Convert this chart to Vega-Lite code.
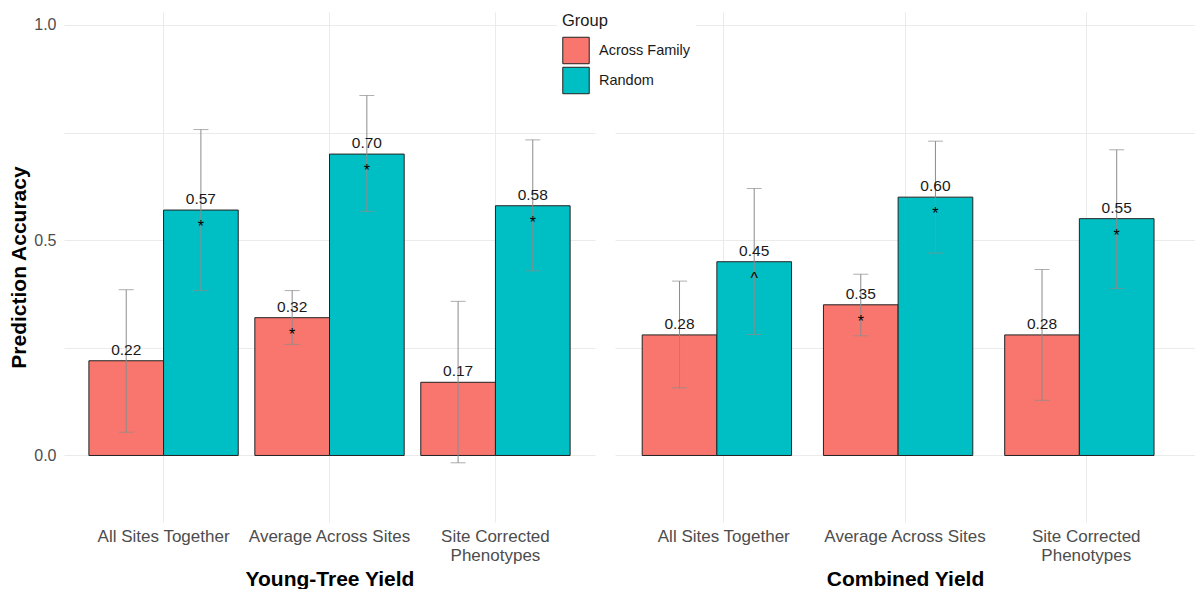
{
  "$schema": "https://vega.github.io/schema/vega-lite/v6.json",
  "padding": {"left": 8, "top": 8, "right": 0, "bottom": 0},
  "spacing": 20,
  "config": {
    "font": "Liberation Sans",
    "view": {"stroke": null},
    "axis": {
      "gridColor": "#EBEBEB",
      "gridWidth": 1,
      "ticks": false,
      "domain": false,
      "labelColor": "#4D4D4D",
      "titleColor": "#000000",
      "titleFontWeight": "bold",
      "titleFontSize": 21
    }
  },
  "datasets": {
    "accuracy": [
      {"Yield": "Young-Tree Yield", "Method": "All Sites Together", "Group": "Across Family", "value": 0.22, "lo": 0.054, "hi": 0.385, "sig": ""},
      {"Yield": "Young-Tree Yield", "Method": "All Sites Together", "Group": "Random", "value": 0.57, "lo": 0.383, "hi": 0.757, "sig": "*"},
      {"Yield": "Young-Tree Yield", "Method": "Average Across Sites", "Group": "Across Family", "value": 0.32, "lo": 0.258, "hi": 0.383, "sig": "*"},
      {"Yield": "Young-Tree Yield", "Method": "Average Across Sites", "Group": "Random", "value": 0.70, "lo": 0.567, "hi": 0.836, "sig": "*"},
      {"Yield": "Young-Tree Yield", "Method": "Site Corrected Phenotypes", "Group": "Across Family", "value": 0.17, "lo": -0.017, "hi": 0.358, "sig": ""},
      {"Yield": "Young-Tree Yield", "Method": "Site Corrected Phenotypes", "Group": "Random", "value": 0.58, "lo": 0.429, "hi": 0.733, "sig": "*"},
      {"Yield": "Combined Yield", "Method": "All Sites Together", "Group": "Across Family", "value": 0.28, "lo": 0.157, "hi": 0.405, "sig": ""},
      {"Yield": "Combined Yield", "Method": "All Sites Together", "Group": "Random", "value": 0.45, "lo": 0.281, "hi": 0.620, "sig": "^"},
      {"Yield": "Combined Yield", "Method": "Average Across Sites", "Group": "Across Family", "value": 0.35, "lo": 0.278, "hi": 0.421, "sig": "*"},
      {"Yield": "Combined Yield", "Method": "Average Across Sites", "Group": "Random", "value": 0.60, "lo": 0.470, "hi": 0.730, "sig": "*"},
      {"Yield": "Combined Yield", "Method": "Site Corrected Phenotypes", "Group": "Across Family", "value": 0.28, "lo": 0.128, "hi": 0.432, "sig": ""},
      {"Yield": "Combined Yield", "Method": "Site Corrected Phenotypes", "Group": "Random", "value": 0.55, "lo": 0.388, "hi": 0.710, "sig": "*"}
    ]
  },
  "resolve": {"scale": {"color": "shared"}, "legend": {"color": "shared"}},
  "hconcat": [
    {
      "width": 531,
      "height": 510,
      "data": {"name": "accuracy"},
      "transform": [{"filter": "datum.Yield == 'Young-Tree Yield'"}],
      "encoding": {
        "x": {
          "field": "Method",
          "type": "nominal",
          "sort": null,
          "scale": {"paddingInner": 0.1, "paddingOuter": 0.15},
          "axis": {
            "title": "Young-Tree Yield",
            "grid": true,
            "bandPosition": 0.5,
            "labelAngle": 0,
            "labelFontSize": 17,
            "labelPadding": 6,
            "labelLineHeight": 19,
            "titlePadding": 5,
            "labelExpr": "datum.value == 'Site Corrected Phenotypes' ? ['Site Corrected', 'Phenotypes'] : datum.value"
          }
        },
        "xOffset": {"field": "Group", "type": "nominal", "scale": {"paddingInner": 0, "paddingOuter": 0}}
      },
      "layer": [
        {
          "mark": {"type": "bar", "stroke": "#222222", "strokeWidth": 1},
          "encoding": {
            "y": {
              "field": "value",
              "type": "quantitative",
              "scale": {"domain": [-0.1545, 1.03], "nice": false, "zero": false},
              "axis": {
                "title": "Prediction Accuracy",
                "values": [0, 0.25, 0.5, 0.75, 1],
                "labelExpr": "datum.value % 0.5 == 0 ? format(datum.value, '.1f') : ''",
                "labelFontSize": 16,
                "labelPadding": 8,
                "titlePadding": 4
              }
            },
            "color": {
              "field": "Group",
              "type": "nominal",
              "scale": {"domain": ["Across Family", "Random"], "range": ["#F8766D", "#00BFC4"]},
              "legend": {
                "title": "Group",
                "orient": "none",
                "legendX": 493,
                "legendY": -4,
                "fillColor": "#FFFFFF",
                "padding": 5,
                "titleFontSize": 16.5,
                "titleFontWeight": "normal",
                "titleColor": "#1A1A1A",
                "titlePadding": 7,
                "labelFontSize": 14.5,
                "labelColor": "#1A1A1A",
                "labelOffset": 9,
                "symbolType": "square",
                "symbolSize": 700,
                "symbolStrokeColor": "#222222",
                "symbolStrokeWidth": 1,
                "symbolOpacity": 1,
                "rowPadding": -4
              }
            }
          }
        },
        {
          "mark": {"type": "rule", "color": "#8C8C8C", "strokeWidth": 1},
          "encoding": {"y": {"field": "lo", "type": "quantitative"}, "y2": {"field": "hi"}}
        },
        {
          "mark": {"type": "tick", "color": "#8C8C8C", "size": 15, "thickness": 1},
          "encoding": {"y": {"field": "lo", "type": "quantitative"}}
        },
        {
          "mark": {"type": "tick", "color": "#8C8C8C", "size": 15, "thickness": 1},
          "encoding": {"y": {"field": "hi", "type": "quantitative"}}
        },
        {
          "mark": {"type": "text", "fontSize": 15.5, "color": "#1A1A1A", "baseline": "alphabetic", "dy": -6},
          "encoding": {"y": {"field": "value", "type": "quantitative"}, "text": {"field": "value", "type": "quantitative", "format": ".2f"}}
        },
        {
          "mark": {"type": "text", "fontSize": 16, "color": "#000000", "baseline": "alphabetic", "dy": 22},
          "encoding": {"y": {"field": "value", "type": "quantitative"}, "text": {"field": "sig"}}
        }
      ]
    },
    {
      "width": 580,
      "height": 510,
      "data": {"name": "accuracy"},
      "transform": [{"filter": "datum.Yield == 'Combined Yield'"}],
      "encoding": {
        "x": {
          "field": "Method",
          "type": "nominal",
          "sort": null,
          "scale": {"paddingInner": 0.1, "paddingOuter": 0.15},
          "axis": {
            "title": "Combined Yield",
            "grid": true,
            "bandPosition": 0.5,
            "labelAngle": 0,
            "labelFontSize": 17,
            "labelPadding": 6,
            "labelLineHeight": 19,
            "titlePadding": 5,
            "labelExpr": "datum.value == 'Site Corrected Phenotypes' ? ['Site Corrected', 'Phenotypes'] : datum.value"
          }
        },
        "xOffset": {"field": "Group", "type": "nominal", "scale": {"paddingInner": 0, "paddingOuter": 0}}
      },
      "layer": [
        {
          "mark": {"type": "bar", "stroke": "#222222", "strokeWidth": 1},
          "encoding": {
            "y": {
              "field": "value",
              "type": "quantitative",
              "scale": {"domain": [-0.1545, 1.03], "nice": false, "zero": false},
              "axis": {"title": null, "labels": false, "values": [0, 0.25, 0.5, 0.75, 1]}
            },
            "color": {"field": "Group", "type": "nominal"}
          }
        },
        {
          "mark": {"type": "rule", "color": "#8C8C8C", "strokeWidth": 1},
          "encoding": {"y": {"field": "lo", "type": "quantitative"}, "y2": {"field": "hi"}}
        },
        {
          "mark": {"type": "tick", "color": "#8C8C8C", "size": 15, "thickness": 1},
          "encoding": {"y": {"field": "lo", "type": "quantitative"}}
        },
        {
          "mark": {"type": "tick", "color": "#8C8C8C", "size": 15, "thickness": 1},
          "encoding": {"y": {"field": "hi", "type": "quantitative"}}
        },
        {
          "mark": {"type": "text", "fontSize": 15.5, "color": "#1A1A1A", "baseline": "alphabetic", "dy": -6},
          "encoding": {"y": {"field": "value", "type": "quantitative"}, "text": {"field": "value", "type": "quantitative", "format": ".2f"}}
        },
        {
          "mark": {"type": "text", "fontSize": 16, "color": "#000000", "baseline": "alphabetic", "dy": 22},
          "encoding": {"y": {"field": "value", "type": "quantitative"}, "text": {"field": "sig"}}
        }
      ]
    }
  ]
}
